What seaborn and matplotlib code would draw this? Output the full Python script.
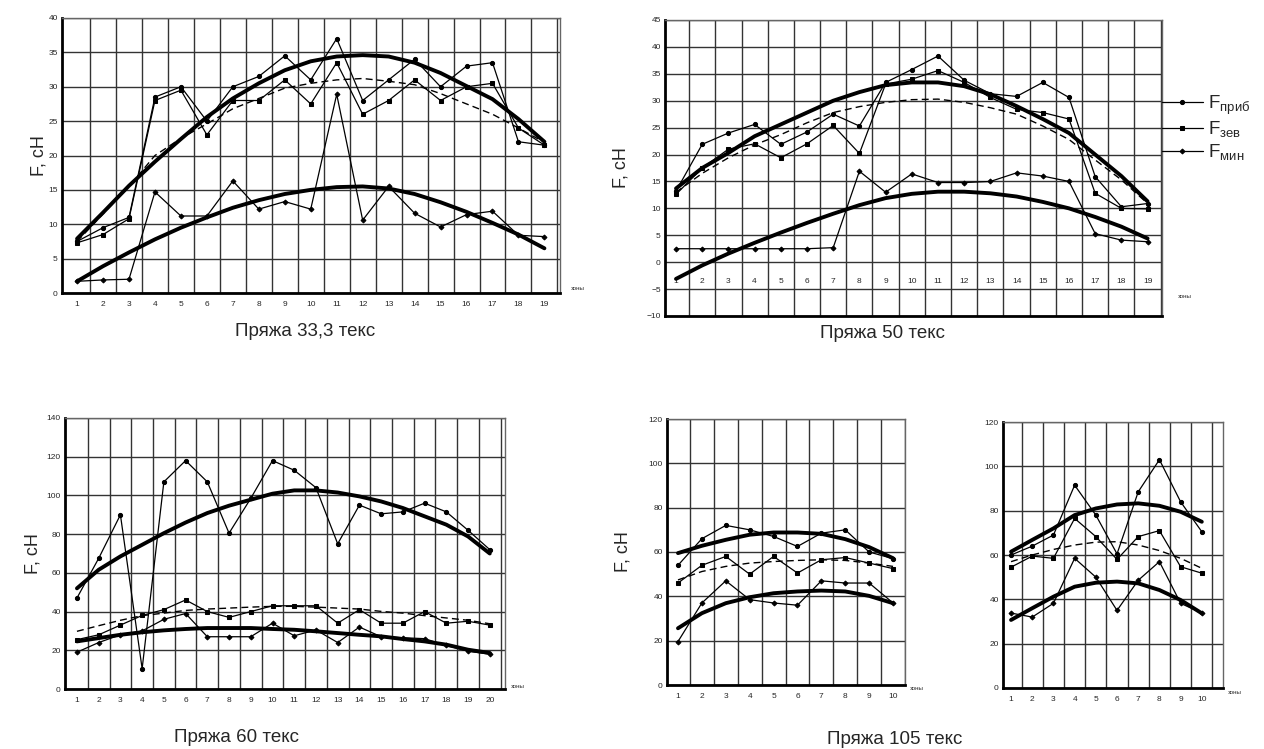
import numpy as np
import seaborn as sns
import matplotlib.pyplot as plt

sns.set_style('white')
plt.rcParams['font.family'] = ['Liberation Sans', 'DejaVu Sans']
plt.rcParams['mathtext.fontset'] = 'custom'
plt.rcParams['mathtext.rm'] = 'Liberation Sans'

# Пряжа 33,3 текс
zones_33 = list(range(1, 20))
prib_33 = [7.5, 9.5, 11, 28.5, 30, 25, 30, 31.5, 34.5, 31, 37, 28, 31, 34, 30, 33, 33.5, 22, 21.5]
zev_33 = [7.3, 8.5, 10.8, 28, 29.5, 23, 28, 28, 31, 27.5, 33.5, 26, 28, 31, 28, 30, 30.5, 24, 21.5]
min_33 = [1.7, 1.9, 2, 14.7, 11.2, 11.2, 16.3, 12.2, 13.3, 12.2, 28.9, 10.6, 15.5, 11.6, 9.6, 11.4, 11.9, 8.4, 8.2]
tr_prib_33 = [7.9, 11.7, 15.6, 19.1, 22.4, 25.6, 28.3, 30.5, 32.4, 33.7, 34.4, 34.6, 34.4, 33.5, 32, 30.1, 28.2, 25.3, 22]
tr_zev_33 = [7.5, 11.5, 15.5, 20, 22.5, 24.6, 26.8, 28.3, 29.8, 30.5, 31, 31.2, 30.8, 30.3, 29, 27.5, 26, 24, 21.9]
tr_min_33 = [1.7, 3.9, 5.9, 7.8, 9.5, 11, 12.4, 13.5, 14.4, 15, 15.4, 15.5, 15.2, 14.4, 13.2, 11.8, 10.2, 8.5, 6.5]

# Пряжа 50 текс
zones_50 = list(range(1, 20))
prib_50 = [13.2, 21.9, 24, 25.6, 21.9, 24.2, 27.5, 25.3, 33.4, 35.8, 38.3, 33.8, 31.3, 30.8, 33.4, 30.6, 15.9, 10.3, 10.9]
zev_50 = [12.6, 17.5, 21, 22, 19.4, 22, 25.4, 20.2, 33.1, 34, 35.6, 33.4, 30.6, 28.4, 27.8, 26.6, 12.8, 10, 9.9]
min_50 = [2.5, 2.5, 2.5, 2.5, 2.5, 2.5, 2.7, 16.9, 13, 16.4, 14.8, 14.8, 15, 16.6, 16, 15, 5.3, 4.1, 3.8]
tr_prib_50 = [13.7, 17.5, 20.3, 23.4, 25.6, 27.8, 30, 31.6, 32.9, 33.4, 33.4, 32.7, 31.2, 29, 26.6, 24, 20, 16, 11.3]
tr_zev_50 = [13, 16.5, 19.4, 21.8, 23.7, 25.9, 27.8, 28.9, 29.7, 30.2, 30.3, 29.7, 28.7, 27.5, 25.3, 22.8, 19, 15.3, 10.9]
tr_min_50 = [-3.1, -0.6, 1.6, 3.6, 5.5, 7.3, 9, 10.6, 11.9, 12.7, 13.1, 13.1, 12.8, 12.2, 11.2, 10, 8.4, 6.6, 4.4]

# Пряжа 60 текс
zones_60 = list(range(1, 21))
prib_60 = [47, 67.5, 90, 10.5, 107, 118, 107, 80.5, 98.5, 118, 113, 104, 75, 95, 90.5, 91.5, 96, 91.5, 82, 72]
zev_60 = [25.5, 28, 33, 38, 41, 46, 40, 37, 40, 43, 43, 43, 34, 41, 34, 34, 40, 34, 35, 33]
min_60 = [19, 24, 28, 30, 36, 39, 27, 27, 27, 34, 27.5, 30.5, 24, 32, 27, 26.5, 26, 22.5, 19.5, 18]
tr_prib_60 = [52, 61.6, 68.5, 74.5, 80.5, 86, 90.9, 94.7, 97.8, 100.9, 102.6, 102.6, 101.5, 99.5, 96.9, 93.5, 89.2, 84.9, 78.8, 70]
tr_zev_60 = [29.8, 32.7, 35.5, 37.9, 39.2, 40.6, 41.3, 41.8, 42.3, 42.7, 42.7, 42.3, 41.8, 41.3, 40.1, 39.2, 37.9, 36.7, 35.5, 33.7]
tr_min_60 = [24.6, 26.3, 28, 29.3, 30.3, 31, 31.5, 31.5, 31.5, 31, 30.6, 29.8, 28.9, 28, 27.2, 25.8, 24.6, 22.9, 20.3, 18.6]

# Пряжа 105 текс (левый)
zones_105 = list(range(1, 11))
prib_105a = [54, 66, 72, 70, 67, 62.5, 68.5, 70, 60, 57]
zev_105a = [46, 54, 58, 50, 58, 50.5, 56.5, 57.5, 55, 52.5]
min_105a = [19.6, 37, 47, 38.5, 37, 36, 47, 46, 46, 37]
tr_prib_105a = [59.5, 62.8, 65.5, 67.8, 68.8, 68.8, 68.2, 65.8, 62.2, 57.2]
tr_zev_105a = [47.4, 51.2, 53.5, 55, 55.7, 56.2, 56.5, 56.2, 55, 53.5]
tr_min_105a = [25.6, 32.4, 36.9, 39.6, 41.4, 42.2, 42.6, 42.2, 40.2, 36.9]

# Пряжа 105 текс (правый)
prib_105b = [60, 64, 69, 91.5, 78, 60.5, 88.5, 103, 84, 70.5]
zev_105b = [54.5, 59.5, 58.5, 76.5, 68.3, 58, 68.3, 71, 54.7, 51.8]
min_105b = [33.8, 32, 38.2, 58.5, 50, 35, 48.6, 57, 38.2, 33.8]
tr_prib_105b = [61.5, 66.8, 72, 78, 81, 82.8, 83.3, 82.2, 79.5, 75]
tr_zev_105b = [57, 60, 62.5, 64.5, 65.8, 66, 64.5, 62, 58.5, 54]
tr_min_105b = [30.7, 36, 41.2, 45.7, 47.5, 48, 47.2, 44.2, 39.7, 33.7]

W, H = 1264, 749
fig = plt.figure(figsize=(W / 100, H / 100), dpi=100)


def box(l, t, r, b):
    return [l / W, 1 - b / H, (r - l) / W, (b - t) / H]


def panel(rect, zones, prib, zev, mn, tp, tz, tm, xlim, ylim, ystep, ylab_off=None):
    ax = fig.add_axes(rect)
    kw = dict(ax=ax, color='black', linewidth=0.9, markeredgecolor='black')
    sns.lineplot(x=zones, y=prib, marker='o', markersize=3.0, label='F$_{\\mathrm{приб}}$', **kw)
    sns.lineplot(x=zones, y=zev, marker='s', markersize=2.8, label='F$_{\\mathrm{зев}}$', **kw)
    sns.lineplot(x=zones, y=mn, marker='D', markersize=2.5, label='F$_{\\mathrm{мин}}$', **kw)
    sns.lineplot(x=zones, y=tp, ax=ax, color='black', linewidth=2.8)
    sns.lineplot(x=zones, y=tz, ax=ax, color='black', linewidth=1.0, linestyle=(0, (5, 3)))
    sns.lineplot(x=zones, y=tm, ax=ax, color='black', linewidth=2.8)
    ax.set_xlim(*xlim)
    ax.set_ylim(*ylim)
    ax.set_xticks(zones)
    ax.set_xticks(np.arange(1.5, zones[-1] + 1, 1), minor=True)
    ax.set_yticks(np.arange(ylim[0], ylim[1] + 0.1, ystep))
    ax.grid(which='minor', axis='x', color='0.2', linewidth=1.0)
    ax.grid(which='major', axis='y', color='0.2', linewidth=1.0)
    ax.tick_params(axis='both', which='both', length=0, labelsize=6, colors='0.15')
    ax.tick_params(axis='y', pad=3)
    ax.tick_params(axis='x', pad=6)
    for s in ['left', 'bottom']:
        ax.spines[s].set_linewidth(2.0)
        ax.spines[s].set_color('black')
    for s in ['top', 'right']:
        ax.spines[s].set_linewidth(1.0)
        ax.spines[s].set_color('0.4')
    ax.set_xlabel('')
    if ylab_off is not None:
        ax.set_ylabel('F, сН', fontsize=13)
        ax.yaxis.set_label_coords(-ylab_off / (rect[2] * W), 0.5)
    ax.get_legend().remove()
    return ax


ax1 = panel(box(62, 18, 560, 293), zones_33, prib_33, zev_33, min_33,
            tr_prib_33, tr_zev_33, tr_min_33, (0.42, 19.6), (0, 40), 5, ylab_off=14)
ax2 = panel(box(665, 20, 1162, 316), zones_50, prib_50, zev_50, min_50,
            tr_prib_50, tr_zev_50, tr_min_50, (0.58, 19.55), (-10, 45), 5, ylab_off=36)
ax2.tick_params(axis='x', pad=-27)
ax3 = panel(box(65, 418, 505, 689), zones_60, prib_60, zev_60, min_60,
            tr_prib_60, tr_zev_60, tr_min_60, (0.45, 20.7), (0, 140), 20, ylab_off=24)
ax4 = panel(box(667, 419, 905, 685), zones_105, prib_105a, zev_105a, min_105a,
            tr_prib_105a, tr_zev_105a, tr_min_105a, (0.54, 10.4), (0, 120), 20, ylab_off=36)
ax5 = panel(box(1003, 422, 1223, 688), zones_105, prib_105b, zev_105b, min_105b,
            tr_prib_105b, tr_zev_105b, tr_min_105b, (0.62, 11.0), (0, 120), 20)

# легенда
h, l = ax2.get_legend_handles_labels()
fig.legend(h[:3], l[:3], loc='upper left', bbox_to_anchor=(1154 / W, 1 - 86 / H),
           frameon=False, fontsize=13.5, handlelength=2.2, labelspacing=0.15,
           handletextpad=0.3, borderaxespad=0)

# подписи осей зон
for x, y in [(578, 289), (1185, 296), (518, 686), (917, 688), (1235, 692)]:
    fig.text(x / W, 1 - y / H, 'зоны', fontsize=4.5, ha='center', va='center')

# подписи панелей
for x, y, t in [(305, 331, 'Пряжа 33,3 текс'), (882, 333, 'Пряжа 50 текс'),
                (236, 737, 'Пряжа 60 текс'), (895, 740, 'Пряжа 105 текс')]:
    fig.text(x / W, 1 - y / H, t, fontsize=13.5, ha='center', va='center')

fig.savefig('out.png', dpi=100)
